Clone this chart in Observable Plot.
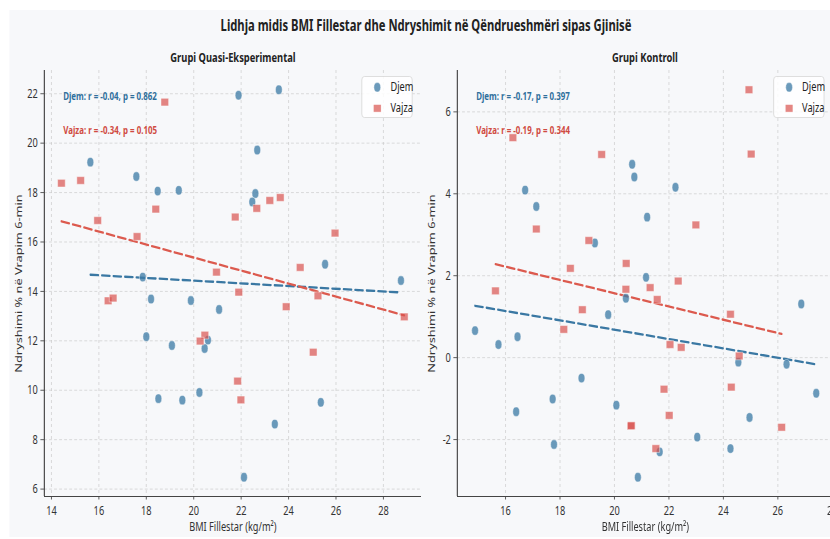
<!DOCTYPE html>
<html>
<head>
<meta charset="utf-8">
<script src="https://cdn.jsdelivr.net/npm/d3@7"></script>
<script src="https://cdn.jsdelivr.net/npm/@observablehq/plot@0.6"></script>
<style>
  html, body { margin: 0; padding: 0; background: #fff; width: 830px; height: 539px; overflow: hidden; }
  /* the figure is laid out on a wider canvas and compressed horizontally */
  #stage { position: absolute; left: 0; top: 0; width: 1160px; height: 539px;
           transform: scaleX(0.72); transform-origin: 0 0; font-family: "Noto Sans", sans-serif; }
  #bg { position: absolute; left: 12.5px; top: 10px; width: 1150px; height: 527px; background: #f7f8fa; }
  .title { position: absolute; left: 291.7px; top: 15.5px; width: 600px; text-align: center;
           font-size: 15.6px; line-height: 19px; font-weight: 700; color: #222; }
  .sub { position: absolute; top: 49px; width: 400px; text-align: center;
         font-size: 13px; line-height: 16px; font-weight: 700; color: #222; }
  .panel { position: absolute; top: 0; }
  .legend { position: absolute; top: 75.7px; width: 70.8px; height: 42.6px; box-sizing: border-box;
            background: rgba(255,255,255,0.85); border: 1px solid #d8d8d8; border-radius: 4px; }
  .legend svg { position: absolute; left: 0; top: 0; }
  .legend span { position: absolute; left: 39px; font-size: 12.8px; line-height: 14px; color: #222; }
</style>
</head>
<body>
<div id="stage">
  <div id="bg"></div>
  <div class="title">Lidhja midis BMI Fillestar dhe Ndryshimit në Qëndrueshmëri sipas Gjinisë</div>
  <div class="sub" style="left:123.6px">Grupi Quasi-Eksperimental</div>
  <div class="sub" style="left:695.8px">Grupi Kontroll</div>
  <div id="left" class="panel" style="left:0px"></div>
  <div id="right" class="panel" style="left:590px"></div>
</div>
<script>
// Grupi Quasi-Eksperimental — Djem (boys)
const qeBoysBMI = [15.64, 17.58, 18.48, 19.37, 21.89, 23.59, 22.68, 22.60, 22.47, 25.54, 28.74, 17.85, 18.20,
                   19.88, 21.07, 18.00, 19.08, 20.60, 20.46, 18.51, 19.52, 20.24, 23.42, 25.36, 22.12];
const qeBoysChange = [19.23, 18.65, 18.06, 18.09, 21.94, 22.16, 19.72, 17.96, 17.62, 15.10, 14.44, 14.58, 13.69,
                      13.63, 13.27, 12.17, 11.81, 12.03, 11.69, 9.66, 9.60, 9.91, 8.63, 9.51, 6.48];
// Grupi Quasi-Eksperimental — Vajza (girls)
const qeGirlsBMI = [14.42, 15.23, 18.78, 15.95, 17.61, 18.40, 21.75, 22.66, 23.21, 23.65, 25.96, 20.96, 24.49,
                    21.90, 25.24, 16.39, 16.60, 23.90, 28.88, 20.47, 20.27, 25.04, 21.85, 21.99];
const qeGirlsChange = [18.38, 18.49, 21.66, 16.87, 16.22, 17.33, 17.01, 17.36, 17.68, 17.80, 16.36, 14.78, 14.97,
                       13.97, 13.82, 13.62, 13.73, 13.38, 12.97, 12.23, 11.99, 11.54, 10.37, 9.61];
// Grupi Kontroll — Djem
const ctBoysBMI = [16.72, 17.13, 20.65, 20.73, 22.24, 21.20, 19.28, 21.16, 20.42, 19.77, 26.86, 14.88, 15.74, 16.44,
                   24.55, 26.32, 27.41, 18.79, 17.73, 20.07, 16.39, 24.96, 17.78, 23.04, 21.66, 24.26, 20.86];
const ctBoysChange = [4.09, 3.69, 4.72, 4.41, 4.16, 3.43, 2.80, 1.96, 1.45, 1.05, 1.31, 0.66, 0.32, 0.51,
                      -0.11, -0.16, -0.87, -0.50, -1.01, -1.16, -1.32, -1.46, -2.12, -1.94, -2.30, -2.22, -2.92];
// Grupi Kontroll — Vajza
const ctGirlsBMI = [24.94, 16.27, 19.53, 25.02, 17.13, 22.99, 19.06, 18.38, 20.43, 15.63, 20.42, 21.31, 22.34, 21.57,
                    18.82, 18.14, 24.26, 22.04, 22.45, 24.58, 21.82, 24.29, 22.01, 20.60, 20.62, 26.14, 21.52];
const ctGirlsChange = [6.54, 5.37, 4.96, 4.97, 3.14, 3.24, 2.86, 2.18, 2.30, 1.63, 1.67, 1.71, 1.87, 1.42,
                       1.17, 0.69, 1.06, 0.32, 0.25, 0.04, -0.77, -0.72, -1.41, -1.67, -1.66, -1.70, -2.22];

// correlation notes per panel
const qeStats = ["Djem: r = -0.04, p = 0.862", "Vajza: r = -0.34, p = 0.105"];
const ctStats = ["Djem: r = -0.17, p = 0.397", "Vajza: r = -0.19, p = 0.344"];

// axis limits and ticks
const qeXDomain = [13.70, 29.60], qeYDomain = [5.70, 22.94];
const ctXDomain = [14.23, 28.04], ctYDomain = [-3.39, 7.01];
const qeXTicks = [14, 16, 18, 20, 22, 24, 26, 28], qeYTicks = [6, 8, 10, 12, 14, 16, 18, 20, 22];
const ctXTicks = [16, 18, 20, 22, 24, 26, 28], ctYTicks = [-2, 0, 2, 4, 6];

const groupNames = ["Djem", "Vajza"];
const xLabel = "BMI Fillestar (kg/m²)";
const yLabel = "Ndryshimi % në Vrapim 6-min";

const BLUE = "#3d7aa5", RED = "#d9534f";
const BLUE_LINE = "#3a78a3", RED_LINE = "#dc5a4e";
const BLUE_TEXT = "#2f6f9c", RED_TEXT = "#d04a41";
const SQUASH = 0.72;

// a rectangle that reads as a square once the figure is compressed horizontally
const wideSquare = {
  draw(context, size) {
    const h = Math.sqrt(size), w = h / SQUASH;
    context.rect(-w / 2, -h / 2, w, h);
  }
};

const zip = (xs, ys) => xs.map((x, i) => ({x, y: ys[i]}));

function panel({boysX, boysY, girlsX, girlsY, xDomain, yDomain, xTicks, yTicks, stats, width, marginLeft, marginRight}) {
  const boys = zip(boysX, boysY), girls = zip(girlsX, girlsY);
  const plotH = 539 - 70 - 43;
  const plotW = width - marginLeft - marginRight;
  const fmt = d => String(d);
  return Plot.plot({
    width, height: 539, marginLeft, marginRight, marginTop: 70, marginBottom: 43,
    style: {background: "transparent", fontFamily: "Noto Sans", fontSize: "12.5px", color: "#333", overflow: "visible"},
    x: {domain: xDomain},
    y: {domain: yDomain},
    marks: [
      Plot.gridX(xTicks, {stroke: "#c4c4c4", strokeOpacity: 0.7, strokeDasharray: "3,3"}),
      Plot.gridY(yTicks, {stroke: "#c4c4c4", strokeOpacity: 0.7, strokeDasharray: "4,3"}),
      Plot.ruleX([xDomain[0]], {stroke: "#444", strokeWidth: 1.6}),
      Plot.ruleY([yDomain[0]], {stroke: "#444", strokeWidth: 1.2}),
      Plot.axisX(xTicks, {tickSize: 3.5, tickFormat: fmt, stroke: "#444", label: xLabel, labelAnchor: "center",
                          labelOffset: 34, labelArrow: "none", fontSize: 12.8}),
      Plot.axisY(yTicks, {tickSize: 5, tickFormat: fmt, stroke: "#444", label: yLabel, labelAnchor: "center",
                          labelOffset: 40, labelArrow: "none", fontSize: 12.8}),
      Plot.linearRegressionY(boys, {x: "x", y: "y", ci: 0, stroke: BLUE_LINE, strokeWidth: 2.3, strokeDasharray: "11,5"}),
      Plot.linearRegressionY(girls, {x: "x", y: "y", ci: 0, stroke: RED_LINE, strokeWidth: 2.3, strokeDasharray: "11,5"}),
      Plot.dot(boys, {x: "x", y: "y", r: 4.7, symbol: "circle", fill: BLUE, fillOpacity: 0.76, stroke: "#fff", strokeWidth: 0.5}),
      Plot.dot(girls, {x: "x", y: "y", r: 4.3, symbol: wideSquare, fill: RED, fillOpacity: 0.7, stroke: "#fff", strokeWidth: 0.5}),
      Plot.text([stats[0]], {frameAnchor: "top-left", dx: 0.05 * plotW, dy: 0.05 * plotH, lineAnchor: "top",
                             textAnchor: "start", fill: BLUE_TEXT, fontWeight: "bold", fontSize: 11}),
      Plot.text([stats[1]], {frameAnchor: "top-left", dx: 0.05 * plotW, dy: 0.13 * plotH, lineAnchor: "top",
                             textAnchor: "start", fill: RED_TEXT, fontWeight: "bold", fontSize: 11})
    ]
  });
}

function legend(left) {
  const box = document.createElement("div");
  box.className = "legend";
  box.style.left = left + "px";
  const h = 7.6, w = h / SQUASH;
  box.innerHTML =
    `<svg width="70" height="42">
       <circle cx="21" cy="10.3" r="4.7" fill="${BLUE}" fill-opacity="0.76" stroke="#fff" stroke-width="0.5"/>
       <rect x="${21 - w / 2}" y="${31.3 - h / 2}" width="${w}" height="${h}" fill="${RED}" fill-opacity="0.7" stroke="#fff" stroke-width="0.5"/>
     </svg>
     <span style="top:2.5px">${groupNames[0]}</span>
     <span style="top:23.5px">${groupNames[1]}</span>`;
  document.getElementById("stage").appendChild(box);
}

document.getElementById("left").appendChild(panel({
  boysX: qeBoysBMI, boysY: qeBoysChange, girlsX: qeGirlsBMI, girlsY: qeGirlsChange,
  xDomain: qeXDomain, yDomain: qeYDomain, xTicks: qeXTicks, yTicks: qeYTicks, stats: qeStats,
  width: 600, marginLeft: 61.1, marginRight: 15.3
}));
document.getElementById("right").appendChild(panel({
  boysX: ctBoysBMI, boysY: ctBoysChange, girlsX: ctGirlsBMI, girlsY: ctGirlsChange,
  xDomain: ctXDomain, yDomain: ctYDomain, xTicks: ctXTicks, yTicks: ctYTicks, stats: ctStats,
  width: 570, marginLeft: 44.7, marginRight: 3
}));
legend(502.4);
legend(1074);
</script>
</body>
</html>
